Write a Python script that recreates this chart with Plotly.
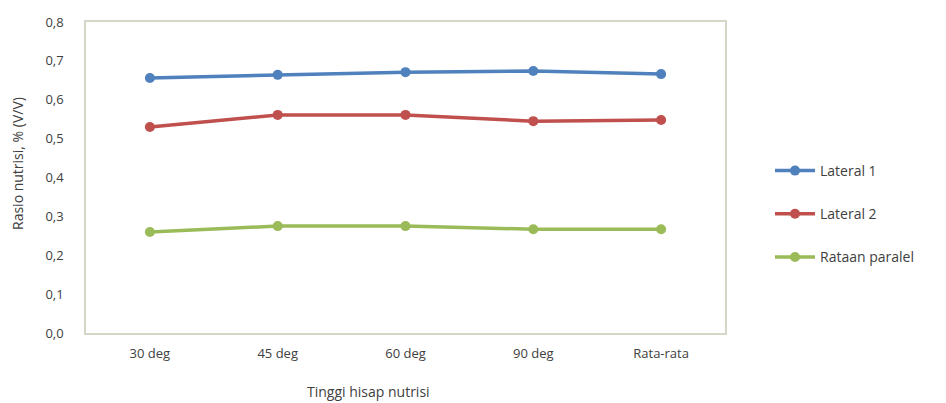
import plotly.graph_objects as go

# Categories and measured nutrient ratios
categories = ["30 deg", "45 deg", "60 deg", "90 deg", "Rata-rata"]
lateral_1 = [0.656, 0.664, 0.671, 0.674, 0.666]
lateral_2 = [0.530, 0.561, 0.561, 0.545, 0.548]
rataan_paralel = [0.260, 0.275, 0.275, 0.267, 0.267]
y_ticks = [0.0, 0.1, 0.2, 0.3, 0.4, 0.5, 0.6, 0.7, 0.8]

series = [
    ("Lateral 1", lateral_1, "#4F81BD"),
    ("Lateral 2", lateral_2, "#C0504D"),
    ("Rataan paralel", rataan_paralel, "#9BBB59"),
]

W, H = 946, 403
L, R, T, B = 86, 221, 22, 70
FONT = "Open Sans, Liberation Sans, sans-serif"
TXT = "#404040"

fig = go.Figure()
for i, (name, vals, col) in enumerate(series):
    fig.add_trace(go.Scatter(
        x=categories, y=vals, name=name, mode="lines+markers",
        line=dict(color=col, width=3.5),
        marker=dict(color=col, size=10),
        legendgroup=str(i),
    ))

fig.update_layout(
    width=W, height=H,
    margin=dict(l=L, r=R, t=T, b=B),
    paper_bgcolor="white", plot_bgcolor="white",
    separators=",.",
    font=dict(family=FONT, size=13, color=TXT),
    showlegend=True,
    legend=dict(
        x=(770 - L) / (W - L - R), xanchor="left",
        y=(H - B - 155) / (H - B - T), yanchor="top",
        font=dict(size=14, color=TXT),
        tracegroupgap=22, itemwidth=40,
        bgcolor="rgba(0,0,0,0)",
    ),
    xaxis=dict(
        type="category", range=[-0.5, 4.5],
        showline=True, mirror=True, linecolor="#D5D5C8", linewidth=1.5,
        showgrid=False, ticks="", ticklabelstandoff=8,
        tickfont=dict(size=13, color=TXT),
    ),
    yaxis=dict(
        range=[0, 0.8], tickvals=y_ticks, tickformat=".1f",
        showline=True, mirror=True, linecolor="#D5D5C8", linewidth=1.5,
        showgrid=False, zeroline=False, ticks="", ticklabelstandoff=18,
        tickfont=dict(size=13, color=TXT),
    ),
    annotations=[
        dict(text="Tinggi hisap nutrisi", xref="paper", yref="paper",
             x=(368 - L) / (W - L - R), y=-(391 - (H - B)) / (H - B - T),
             xanchor="center", yanchor="middle", showarrow=False,
             font=dict(size=14, color=TXT)),
        dict(text="Rasio nutrisi, % (V/V)", xref="paper", yref="paper",
             x=-(L - 17) / (W - L - R), y=(H - B - 164) / (H - B - T),
             xanchor="center", yanchor="middle", showarrow=False,
             textangle=-90, font=dict(size=14, color=TXT)),
    ],
)

fig.write_html("out.html")
